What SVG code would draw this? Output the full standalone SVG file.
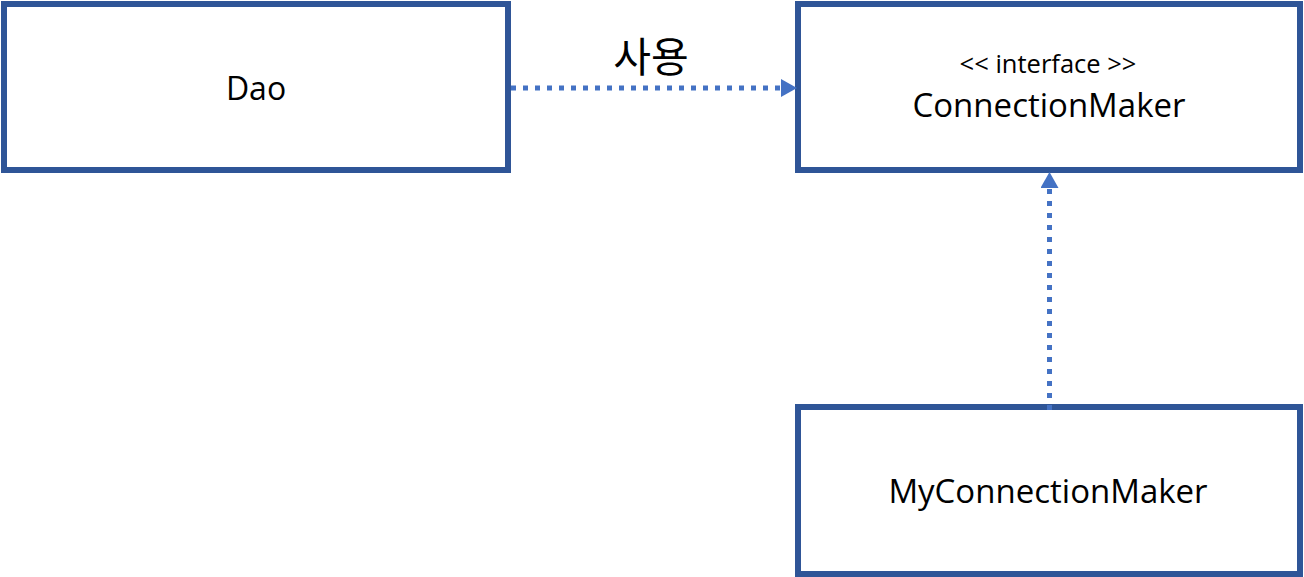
<svg xmlns="http://www.w3.org/2000/svg" width="1304" height="577" viewBox="0 0 1304 577">
  <style>
    .box { fill: #ffffff; stroke: #2F5597; stroke-width: 6; }
    .lbl { font-family: "Open Sans", "Liberation Sans", sans-serif; fill: #000000; text-anchor: middle; }
    .conn { fill: none; stroke: #4472C4; stroke-width: 5; stroke-dasharray: 5 7; }
    .kr { font-family: "Noto Sans CJK KR", "Noto Sans", sans-serif; fill: #000000; text-anchor: middle; }
  </style>
  <defs>
    <marker id="arrow" viewBox="0 0 16 18" refX="16" refY="9" markerWidth="16" markerHeight="18" markerUnits="userSpaceOnUse" orient="auto">
      <path d="M0,0 L16,9 L0,18 Z" fill="#4472C4"/>
    </marker>
  </defs>
  <rect width="1304" height="577" fill="#ffffff"/>
  <g id="dao">
    <rect class="box" x="4" y="4" width="504" height="166"/>
    <text class="lbl" x="256" y="100" font-size="32">Dao</text>
  </g>
  <g id="connectionmaker">
    <rect class="box" x="798" y="4" width="502" height="166"/>
    <text class="lbl" x="1048" y="73" font-size="25.5">&lt;&lt; interface &gt;&gt;</text>
    <text class="lbl" x="1049" y="117" font-size="33">ConnectionMaker</text>
  </g>
  <g id="myconnectionmaker">
    <rect class="box" x="798" y="407" width="502" height="167"/>
    <text class="lbl" x="1048" y="503" font-size="33">MyConnectionMaker</text>
  </g>
  <g id="connectors">
    <line class="conn" x1="511" y1="88" x2="797" y2="88" marker-end="url(#arrow)"/>
    <text class="kr" x="651" y="72" font-size="41">사용</text>
    <line class="conn" x1="1049.5" y1="410" x2="1049.5" y2="172" marker-end="url(#arrow)"/>
  </g>
</svg>
